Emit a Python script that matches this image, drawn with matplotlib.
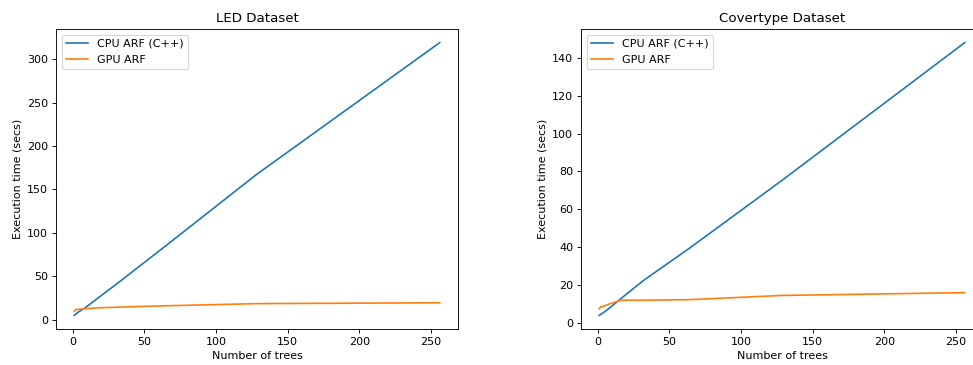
import matplotlib
matplotlib.use("Agg")
from matplotlib import pyplot as plt

# number of trees in the ensemble
trees = [1, 2, 4, 8, 16, 32, 64, 128, 256]

# LED dataset execution times (secs)
led_cpu = [5, 6.5, 9, 13, 23, 43, 84, 167, 319]
led_gpu = [10, 11.5, 12, 12.5, 13.5, 14.5, 16, 18.5, 19.5]

# Covertype dataset execution times (secs)
cov_cpu = [4, 4.5, 5.5, 7.8, 12.8, 22.5, 39.5, 75, 148]
cov_gpu = [7.5, 8.5, 8.8, 10, 12, 12, 12.3, 14.5, 16]

dpi = 80
fig = plt.figure(figsize=(973 / dpi, 365 / dpi), dpi=dpi)

W, H = 973.0, 365.0
ax1 = fig.add_axes([56 / W, 1 - 329 / H, 402 / W, 300 / H])
ax2 = fig.add_axes([581 / W, 1 - 329 / H, 402 / W, 300 / H])

panels = [
    (ax1, "LED Dataset", led_cpu, led_gpu),
    (ax2, "Covertype Dataset", cov_cpu, cov_gpu),
]

for ax, title, cpu, gpu in panels:
    ax.plot(trees, cpu, label="CPU ARF (C++)")
    ax.plot(trees, gpu, label="GPU ARF")
    ax.set_title(title)
    ax.set_xlabel("Number of trees")
    ax.set_ylabel("Execution time (secs)")
    ax.legend(loc="upper left")

fig.savefig("out.png", dpi=dpi)
